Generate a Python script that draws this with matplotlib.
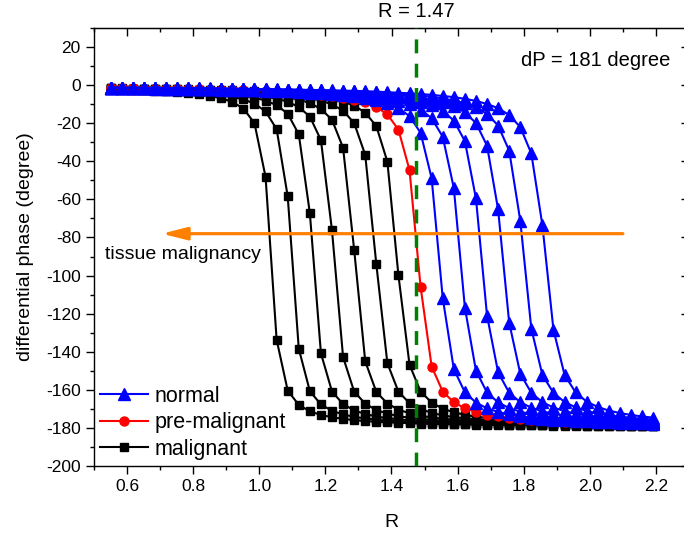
import matplotlib
matplotlib.use('Agg')
import matplotlib.pyplot as plt
from matplotlib.ticker import MultipleLocator

plt.rcParams['font.family'] = ['Liberation Sans', 'DejaVu Sans']
plt.rcParams['axes.unicode_minus'] = False

# R positions of the plotted points (same for every curve)
R = [0.5500, 0.5835, 0.6170, 0.6505, 0.6840, 0.7175, 0.7510, 0.7845, 0.8180, 0.8515,
     0.8850, 0.9185, 0.9520, 0.9855, 1.0190, 1.0525, 1.0860, 1.1195, 1.1530, 1.1865,
     1.2200, 1.2535, 1.2870, 1.3205, 1.3540, 1.3875, 1.4210, 1.4545, 1.4880, 1.5215,
     1.5550, 1.5885, 1.6220, 1.6555, 1.6890, 1.7225, 1.7560, 1.7895, 1.8230, 1.8565,
     1.8900, 1.9235, 1.9570, 1.9905, 2.0240, 2.0575, 2.0910, 2.1245, 2.1580, 2.1915]

# differential phase (degree)
malignant = [
    [-2.1, -2.3, -2.5, -2.7, -2.9, -3.3, -3.6, -4.1, -4.8, -5.6, -6.9, -8.8, -12.3, -20.0, -48.2,
     -133.7, -160.4, -167.9, -171.3, -173.2, -174.4, -175.3, -175.9, -176.4, -176.8, -177.1, -177.3,
     -177.5, -177.7, -177.9, -178.0, -178.1, -178.2, -178.3, -178.4, -178.5, -178.6, -178.6, -178.7,
     -178.7, -178.8, -178.8, -178.9, -178.9, -179.0, -179.0, -179.0, -179.0, -179.1, -179.1],
    [-2.0, -2.1, -2.3, -2.5, -2.7, -2.9, -3.2, -3.5, -3.9, -4.5, -5.2, -6.1, -7.5, -9.7, -13.8,
     -23.1, -58.4, -138.4, -160.7, -167.7, -171.0, -172.9, -174.2, -175.0, -175.7, -176.2, -176.6,
     -176.9, -177.2, -177.4, -177.6, -177.7, -177.9, -178.0, -178.1, -178.2, -178.3, -178.4, -178.5,
     -178.5, -178.6, -178.7, -178.7, -178.8, -178.8, -178.9, -178.9, -178.9, -179.0, -179.0],
    [-1.9, -2.0, -2.1, -2.3, -2.4, -2.6, -2.8, -3.1, -3.4, -3.7, -4.2, -4.8, -5.5, -6.6, -8.1,
     -10.5, -15.0, -25.8, -67.2, -140.8, -160.9, -167.5, -170.8, -172.7, -174.0, -174.9, -175.5,
     -176.0, -176.4, -176.8, -177.0, -177.3, -177.5, -177.6, -177.8, -177.9, -178.0, -178.1, -178.2,
     -178.3, -178.4, -178.5, -178.5, -178.6, -178.7, -178.7, -178.7, -178.8, -178.8, -178.9],
    [-1.8, -1.9, -2.0, -2.1, -2.3, -2.4, -2.6, -2.8, -3.0, -3.3, -3.6, -4.0, -4.5, -5.1, -5.9,
     -7.1, -8.7, -11.5, -16.5, -28.9, -76.3, -142.8, -160.9, -167.3, -170.6, -172.5, -173.8,
     -174.7, -175.3, -175.9, -176.3, -176.6, -176.9, -177.2, -177.4, -177.5, -177.7, -177.8, -178.0,
     -178.1, -178.2, -178.2, -178.3, -178.4, -178.5, -178.5, -178.6, -178.6, -178.7, -178.7],
    [-1.7, -1.8, -1.9, -2.0, -2.1, -2.3, -2.4, -2.6, -2.7, -3.0, -3.2, -3.5, -3.8, -4.3, -4.8,
     -5.5, -6.3, -7.6, -9.4, -12.5, -18.2, -32.9, -86.4, -145.0, -161.1, -167.2, -170.4,
     -172.3, -173.6, -174.5, -175.2, -175.7, -176.1, -176.5, -176.8, -177.0, -177.2, -177.4, -177.6,
     -177.7, -177.9, -178.0, -178.1, -178.2, -178.2, -178.3, -178.4, -178.5, -178.5, -178.6],
    [-1.7, -1.8, -1.8, -1.9, -2.0, -2.1, -2.2, -2.4, -2.5, -2.7, -2.9, -3.1, -3.4, -3.7, -4.1,
     -4.5, -5.1, -5.8, -6.8, -8.1, -10.1, -13.4, -19.9, -36.6, -93.9, -146.0, -161.0,
     -167.0, -170.1, -172.1, -173.4, -174.3, -175.0, -175.5, -176.0, -176.3, -176.7, -176.9, -177.1,
     -177.3, -177.5, -177.6, -177.8, -177.9, -178.0, -178.1, -178.2, -178.2, -178.3, -178.4],
    [-1.6, -1.7, -1.8, -1.8, -1.9, -2.0, -2.1, -2.2, -2.4, -2.5, -2.7, -2.8, -3.0, -3.3, -3.6,
     -3.9, -4.3, -4.8, -5.4, -6.1, -7.2, -8.6, -10.8, -14.4, -21.5, -40.2, -99.9,
     -146.8, -160.9, -166.7, -169.9, -171.8, -173.1, -174.1, -174.8, -175.4, -175.8, -176.2, -176.5,
     -176.8, -177.0, -177.2, -177.4, -177.5, -177.7, -177.8, -177.9, -178.0, -178.1, -178.2],
]

pre_malignant = [-1.6, -1.6, -1.7, -1.8, -1.9, -1.9, -2.0, -2.1, -2.2, -2.3, -2.5, -2.6, -2.8, -3.0, -3.2,
                 -3.4, -3.7, -4.1, -4.5, -5.0, -5.6, -6.5, -7.6, -9.1, -11.5, -15.4, -23.4,
                 -44.6, -105.9, -147.8, -160.9, -166.6, -169.7, -171.6, -173.0, -173.9, -174.7, -175.2, -175.7,
                 -176.1, -176.4, -176.7, -176.9, -177.1, -177.3, -177.4, -177.6, -177.7, -177.8, -177.9]

normal = [
    [-1.5, -1.6, -1.6, -1.7, -1.8, -1.8, -1.9, -2.0, -2.1, -2.2, -2.3, -2.4, -2.5, -2.7, -2.9,
     -3.1, -3.3, -3.5, -3.9, -4.2, -4.6, -5.2, -5.8, -6.7, -7.9, -9.5, -12.0,
     -16.3, -25.0, -49.0, -111.8, -149.1, -161.3, -166.7, -169.7, -171.6, -172.9, -173.9, -174.6,
     -175.2, -175.6, -176.0, -176.3, -176.6, -176.9, -177.1, -177.2, -177.4, -177.5, -177.7],
    [-1.5, -1.5, -1.6, -1.6, -1.7, -1.8, -1.8, -1.9, -2.0, -2.1, -2.2, -2.3, -2.4, -2.5, -2.6,
     -2.8, -3.0, -3.2, -3.4, -3.7, -4.0, -4.4, -4.8, -5.4, -6.1, -7.0, -8.3,
     -10.0, -12.8, -17.4, -27.1, -54.0, -116.8, -150.0, -161.4, -166.6, -169.6, -171.5, -172.8,
     -173.7, -174.5, -175.1, -175.5, -175.9, -176.3, -176.5, -176.8, -177.0, -177.2, -177.3],
    [-1.4, -1.5, -1.5, -1.6, -1.6, -1.7, -1.8, -1.8, -1.9, -2.0, -2.0, -2.1, -2.2, -2.3, -2.5,
     -2.6, -2.7, -2.9, -3.1, -3.3, -3.6, -3.8, -4.2, -4.6, -5.1, -5.6, -6.4,
     -7.4, -8.7, -10.6, -13.5, -18.6, -29.4, -59.5, -121.0, -150.8, -161.5, -166.5, -169.4,
     -171.3, -172.6, -173.6, -174.4, -174.9, -175.4, -175.8, -176.2, -176.4, -176.7, -176.9],
    [-1.4, -1.4, -1.5, -1.5, -1.6, -1.6, -1.7, -1.7, -1.8, -1.9, -2.0, -2.0, -2.1, -2.2, -2.3,
     -2.4, -2.6, -2.7, -2.9, -3.0, -3.2, -3.4, -3.7, -4.0, -4.4, -4.8, -5.3,
     -5.9, -6.7, -7.7, -9.1, -11.1, -14.3, -19.9, -31.8, -65.3, -124.7, -151.5, -161.6,
     -166.5, -169.3, -171.2, -172.5, -173.5, -174.2, -174.8, -175.3, -175.7, -176.1, -176.4],
    [-1.4, -1.4, -1.5, -1.5, -1.5, -1.6, -1.6, -1.7, -1.7, -1.8, -1.9, -1.9, -2.0, -2.1, -2.2,
     -2.3, -2.4, -2.5, -2.7, -2.8, -3.0, -3.1, -3.3, -3.6, -3.8, -4.2, -4.5,
     -5.0, -5.5, -6.1, -7.0, -8.1, -9.6, -11.7, -15.1, -21.2, -34.4, -71.1, -127.9,
     -152.2, -161.6, -166.4, -169.2, -171.1, -172.4, -173.4, -174.1, -174.7, -175.2, -175.6],
    [-1.3, -1.4, -1.4, -1.4, -1.5, -1.5, -1.6, -1.6, -1.7, -1.7, -1.8, -1.9, -1.9, -2.0, -2.1,
     -2.2, -2.3, -2.4, -2.5, -2.6, -2.7, -2.9, -3.0, -3.2, -3.4, -3.7, -4.0,
     -4.3, -4.7, -5.1, -5.7, -6.3, -7.2, -8.3, -9.9, -12.1, -15.7, -22.0, -35.9,
     -73.6, -128.5, -152.1, -161.4, -166.2, -169.0, -170.9, -172.2, -173.2, -174.0, -174.6],
]

R_line = 1.475
arrow_start = 2.1
arrow_end = 0.705
arrow_y = -78

fig = plt.figure(figsize=(6.84, 5.33), dpi=100)
# the right edge of the frame falls just outside the picture, as in the original
ax = fig.add_axes([94 / 684, 67 / 533, 595 / 684, 438 / 533])

for i, ys in enumerate(malignant):
    ax.plot(R, ys, color='black', lw=1.5, marker='s', ms=5.5,
            label='malignant' if i == 0 else None, zorder=3)
ax.plot(R, pre_malignant, color='red', lw=1.5, marker='o', ms=6.5,
        label='pre-malignant', zorder=4)
for i, ys in enumerate(normal):
    ax.plot(R, ys, color='blue', lw=1.5, marker='^', ms=8,
            label='normal' if i == 0 else None, zorder=5)

ax.axvline(R_line, color='#008000', lw=2.5, dashes=(4, 3), zorder=6)
ax.text(R_line, 1.015, 'R = 1.47', transform=ax.get_xaxis_transform(),
        ha='center', va='bottom', fontsize=14.5)

ax.annotate('', xy=(arrow_end, arrow_y), xytext=(arrow_start, arrow_y),
            arrowprops=dict(arrowstyle='-|>,head_length=1.5,head_width=0.38',
                            color='#FF8000', lw=2.3, shrinkA=0, shrinkB=0),
            zorder=7)
ax.text(0.533, -89, 'tissue malignancy', fontsize=14, va='center', ha='left')
ax.text(2.245, 13, 'dP = 181 degree', fontsize=14.5, va='center', ha='right')

ax.set_xlim(0.5, 2.3)
ax.set_ylim(-200, 30)
ax.xaxis.set_minor_locator(MultipleLocator(0.1))
ax.yaxis.set_minor_locator(MultipleLocator(10))
ax.set_xticks([0.6, 0.8, 1.0, 1.2, 1.4, 1.6, 1.8, 2.0, 2.2])
ax.set_yticks(range(-200, 21, 20))
ax.tick_params(which='both', direction='out', labelsize=12.5, width=1)
ax.tick_params(which='major', length=6)
ax.tick_params(which='minor', length=3)

top = ax.secondary_xaxis('top')
top.xaxis.set_major_locator(MultipleLocator(0.2))
top.xaxis.set_minor_locator(MultipleLocator(0.1))
top.tick_params(which='both', direction='in', labeltop=False, width=1)
top.tick_params(which='major', length=6)
top.tick_params(which='minor', length=3)
right = ax.secondary_yaxis('right')
right.yaxis.set_major_locator(MultipleLocator(20))
right.yaxis.set_minor_locator(MultipleLocator(10))
right.tick_params(which='both', direction='in', labelright=False, width=1)
right.tick_params(which='major', length=6)
right.tick_params(which='minor', length=3)

for s in ax.spines.values():
    s.set_linewidth(1.0)

ax.set_xlabel('R', fontsize=14, labelpad=14)
ax.set_ylabel('differential phase (degree)', fontsize=14, labelpad=9)

handles, labels = ax.get_legend_handles_labels()
order = [labels.index('normal'), labels.index('pre-malignant'), labels.index('malignant')]
ax.legend([handles[k] for k in order], [labels[k] for k in order],
          loc='lower left', frameon=False, fontsize=15.5, handlelength=2.2,
          handletextpad=0.3, labelspacing=0.25, borderaxespad=0.1, borderpad=0.2)

fig.savefig('out.png', dpi=100)
